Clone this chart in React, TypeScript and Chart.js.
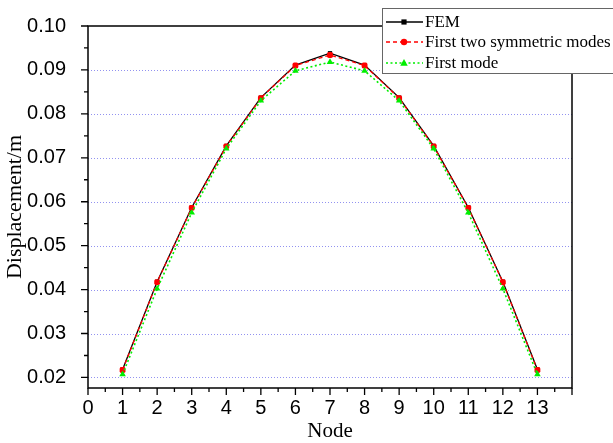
import React, { useEffect, useRef } from "react";
import { Chart, registerables } from "chart.js";

Chart.register(...registerables);

// Node numbers along the span
const nodes = [1, 2, 3, 4, 5, 6, 7, 8, 9, 10, 11, 12, 13];

// Displacement (m) at each node
const femValues = [0.0218, 0.0418, 0.0587, 0.0727, 0.0837, 0.0911, 0.0938, 0.0911, 0.0837, 0.0727, 0.0587, 0.0418, 0.0218];
const twoModeValues = [0.0217, 0.0417, 0.0586, 0.0726, 0.0836, 0.0910, 0.0934, 0.0910, 0.0836, 0.0726, 0.0586, 0.0417, 0.0217];
const firstModeValues = [0.0207, 0.0402, 0.0575, 0.0721, 0.0830, 0.0898, 0.0918, 0.0898, 0.0830, 0.0721, 0.0575, 0.0402, 0.0207];

const seriesLabels = ["FEM", "First two symmetric modes", "First mode"];

// Axis ranges and tick values
const xMin = 0;
const xMax = 14;
const yMin = 0.0176;
const yMax = 0.1;
const yMajorTicks = [0.02, 0.03, 0.04, 0.05, 0.06, 0.07, 0.08, 0.09, 0.1];
const yMinorTicks = [0.025, 0.035, 0.045, 0.055, 0.065, 0.075, 0.085, 0.095];
const xMajorTicks = [0, 1, 2, 3, 4, 5, 6, 7, 8, 9, 10, 11, 12, 13, 14];
const xMinorTicks = [0.5, 1.5, 2.5, 3.5, 4.5, 5.5, 6.5, 7.5, 8.5, 9.5, 10.5, 11.5, 12.5, 13.5];
const yTickLabels = ["0.02", "0.03", "0.04", "0.05", "0.06", "0.07", "0.08", "0.09", "0.10"];
const xTickLabels = ["0", "1", "2", "3", "4", "5", "6", "7", "8", "9", "10", "11", "12", "13", ""];

const SANS = "'Liberation Sans', Arial, sans-serif";
const SERIF = "'Liberation Serif', 'Times New Roman', serif";

type Marker = "rect" | "circle" | "triangle";

function drawMarker(ctx: CanvasRenderingContext2D, kind: Marker, x: number, y: number, r: number, color: string) {
  ctx.save();
  ctx.setLineDash([]);
  ctx.fillStyle = color;
  ctx.beginPath();
  if (kind === "rect") {
    ctx.rect(x - r, y - r, 2 * r, 2 * r);
  } else if (kind === "circle") {
    ctx.arc(x, y, r, 0, Math.PI * 2);
  } else {
    ctx.moveTo(x, y - r * 1.15);
    ctx.lineTo(x + r * 1.1, y + r * 0.8);
    ctx.lineTo(x - r * 1.1, y + r * 0.8);
    ctx.closePath();
  }
  ctx.fill();
  ctx.restore();
}

const legendStyles = [
  { color: "#000000", dash: [] as number[], width: 1.3, marker: "rect" as Marker, r: 2.6 },
  { color: "#ff0000", dash: [4, 3], width: 1.3, marker: "circle" as Marker, r: 3.2 },
  { color: "#00ee00", dash: [2, 2.5], width: 1.6, marker: "triangle" as Marker, r: 3.4 },
];

const framePlugin = {
  id: "frameAndLegend",
  beforeDatasetsDraw(chart: any) {
    const { ctx, chartArea } = chart;
    const ys = chart.scales.y;
    ctx.save();
    ctx.strokeStyle = "rgba(110,110,235,0.75)";
    ctx.lineWidth = 1;
    ctx.setLineDash([1, 2]);
    yMajorTicks.forEach((v) => {
      if (v >= yMax) return;
      const y = Math.round(ys.getPixelForValue(v)) + 0.5;
      ctx.beginPath();
      ctx.moveTo(chartArea.left, y);
      ctx.lineTo(chartArea.right, y);
      ctx.stroke();
    });
    ctx.restore();
  },
  afterDatasetsDraw(chart: any) {
    const { ctx, chartArea } = chart;
    const xs = chart.scales.x;
    const ys = chart.scales.y;
    const { left, right, top, bottom } = chartArea;

    ctx.save();
    ctx.setLineDash([]);
    ctx.strokeStyle = "#000";
    ctx.lineWidth = 1.5;
    ctx.strokeRect(left, top, right - left, bottom - top);

    // y ticks point outward (left)
    ctx.lineWidth = 1.3;
    ctx.beginPath();
    yMajorTicks.forEach((v) => {
      const y = ys.getPixelForValue(v);
      ctx.moveTo(left, y);
      ctx.lineTo(left - 7, y);
    });
    yMinorTicks.forEach((v) => {
      const y = ys.getPixelForValue(v);
      ctx.moveTo(left, y);
      ctx.lineTo(left - 4, y);
    });
    // x ticks point outward (down)
    xMajorTicks.forEach((v) => {
      const x = xs.getPixelForValue(v);
      ctx.moveTo(x, bottom);
      ctx.lineTo(x, bottom + 7);
    });
    xMinorTicks.forEach((v) => {
      const x = xs.getPixelForValue(v);
      ctx.moveTo(x, bottom);
      ctx.lineTo(x, bottom + 4);
    });
    ctx.stroke();

    // axis titles
    ctx.fillStyle = "#000";
    ctx.font = `22px ${SERIF}`;
    ctx.textAlign = "center";
    ctx.textBaseline = "middle";
    ctx.save();
    ctx.translate(15, (top + bottom) / 2);
    ctx.rotate(-Math.PI / 2);
    ctx.fillText("Displacement/m", 0, 0);
    ctx.restore();
    ctx.font = `21px ${SERIF}`;
    ctx.fillText("Node", (left + right) / 2, 431);

    // legend box
    const bx = 382;
    const by = 8;
    ctx.fillStyle = "#fff";
    ctx.fillRect(bx, by, 260, 65);
    ctx.strokeStyle = "#666";
    ctx.lineWidth = 1;
    ctx.strokeRect(bx + 0.5, by + 0.5, 260, 65);

    const rows = [22, 42, 63];
    seriesLabels.forEach((label, i) => {
      const s = legendStyles[i];
      const y = rows[i];
      ctx.save();
      ctx.strokeStyle = s.color;
      ctx.lineWidth = s.width;
      ctx.setLineDash(s.dash);
      ctx.beginPath();
      ctx.moveTo(386, y);
      ctx.lineTo(423, y);
      ctx.stroke();
      ctx.restore();
      drawMarker(ctx, s.marker, 404, y, s.r, s.color);
      ctx.fillStyle = "#000";
      ctx.font = `17px ${SERIF}`;
      ctx.textAlign = "left";
      ctx.textBaseline = "middle";
      ctx.fillText(label, 425, y + 1);
    });
    ctx.restore();
  },
};

export default function App() {
  const canvasRef = useRef<HTMLCanvasElement | null>(null);

  useEffect(() => {
    const canvas = canvasRef.current;
    if (!canvas) return;

    const toPoints = (vals: number[]) => nodes.map((n, i) => ({ x: n, y: vals[i] }));

    const chart = new Chart(canvas, {
      type: "line",
      data: {
        datasets: [
          {
            label: seriesLabels[0],
            data: toPoints(femValues),
            borderColor: "#000000",
            backgroundColor: "#000000",
            borderWidth: 1.3,
            pointStyle: "rect",
            pointRadius: 3,
            pointBorderWidth: 0,
            order: 3,
          },
          {
            label: seriesLabels[1],
            data: toPoints(twoModeValues),
            borderColor: "#ff0000",
            backgroundColor: "#ff0000",
            borderWidth: 1.3,
            borderDash: [4, 3],
            pointStyle: "rectRounded",
            pointRadius: 3.4,
            pointBorderWidth: 0,
            order: 2,
          },
          {
            label: seriesLabels[2],
            data: toPoints(firstModeValues),
            borderColor: "#00ee00",
            backgroundColor: "#00ee00",
            borderWidth: 1.6,
            borderDash: [2, 2.5],
            pointStyle: "triangle",
            pointRadius: 3.8,
            pointBorderWidth: 0,
            order: 1,
          },
        ],
      },
      options: {
        animation: false,
        responsive: false,
        devicePixelRatio: 1,
        layout: { padding: { left: 0, top: 25, right: 41, bottom: 0 } },
        plugins: {
          legend: { display: false },
          tooltip: { enabled: false },
        },
        elements: { line: { tension: 0 } },
        scales: {
          x: {
            type: "linear",
            min: xMin,
            max: xMax,
            grid: { display: false },
            border: { display: false },
            afterBuildTicks: (scale: any) => {
              scale.ticks = xMajorTicks.map((v) => ({ value: v }));
            },
            afterFit: (scale: any) => {
              scale.height = 55;
            },
            ticks: {
              autoSkip: false,
              maxRotation: 0,
              padding: 0,
              color: "#000",
              font: { family: SANS, size: 20 },
              callback: (_v: any, i: number) => xTickLabels[i],
            },
          },
          y: {
            type: "linear",
            min: yMin,
            max: yMax,
            grid: { display: false },
            border: { display: false },
            afterBuildTicks: (scale: any) => {
              scale.ticks = yMajorTicks.map((v) => ({ value: v }));
            },
            afterFit: (scale: any) => {
              scale.width = 88;
            },
            ticks: {
              autoSkip: false,
              padding: 14,
              color: "#000",
              font: { family: SANS, size: 20 },
              callback: (_v: any, i: number) => yTickLabels[i],
            },
          },
        },
      },
      plugins: [framePlugin],
    });

    return () => chart.destroy();
  }, []);

  return (
    <div style={{ position: "absolute", left: 0, top: 0, width: 613, height: 443, background: "#fff" }}>
      <canvas ref={canvasRef} width={613} height={443} />
    </div>
  );
}
